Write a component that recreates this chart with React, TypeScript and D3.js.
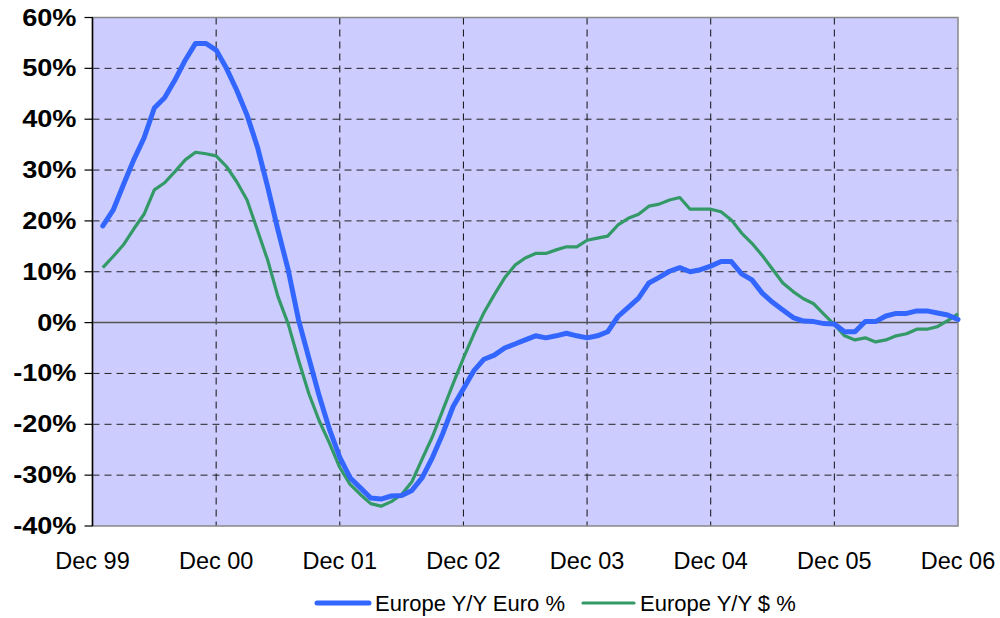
import React from "react";
import * as d3 from "d3";

const tickLabels = ["Dec 99", "Dec 00", "Dec 01", "Dec 02", "Dec 03", "Dec 04", "Dec 05", "Dec 06"];
const yTicks = [-40, -30, -20, -10, 0, 10, 20, 30, 40, 50, 60];

// Monthly values, Jan 00 .. Dec 06
const euroSeries = [
  19.0, 22.1, 27.1, 32.0, 36.3, 42.2, 44.2, 47.7, 51.6, 54.9, 54.9, 53.6,
  50.0, 45.7, 40.8, 34.6, 26.7, 18.2, 10.3, 0.5, -7.0, -14.4, -21.0, -26.5,
  -30.5, -32.5, -34.5, -34.7, -34.1, -34.0, -33.0, -30.5, -26.5, -21.8, -16.5, -13.0,
  -9.5, -7.2, -6.4, -5.0, -4.2, -3.4, -2.6, -3.0, -2.6, -2.1, -2.6, -3.0,
  -2.6, -1.8, 1.2, 3.0, 4.8, 7.8, 8.9, 10.1, 10.8, 10.0, 10.4, 11.1,
  12.0, 12.0, 9.6, 8.4, 5.8, 4.0, 2.5, 1.0, 0.3, 0.2, -0.2, -0.3,
  -1.8, -1.8, 0.2, 0.2, 1.3, 1.8, 1.8, 2.3, 2.3, 1.9, 1.5, 0.6,
];
const dollarSeries = [
  10.8, 13.0, 15.3, 18.4, 21.3, 26.1, 27.5, 29.7, 32.0, 33.5, 33.2, 32.8,
  30.7, 27.7, 24.1, 18.2, 12.3, 5.1, -0.3, -7.4, -14.0, -19.3, -23.7, -28.5,
  -31.8, -33.8, -35.6, -36.1, -35.2, -33.8, -31.3, -26.8, -22.4, -17.2, -12.0, -7.0,
  -2.3, 2.0, 5.5, 8.8, 11.3, 12.7, 13.6, 13.6, 14.3, 14.9, 14.9, 16.2,
  16.6, 17.0, 19.2, 20.5, 21.3, 22.9, 23.3, 24.1, 24.6, 22.3, 22.3, 22.3,
  21.8, 20.2, 17.6, 15.6, 13.2, 10.5, 7.8, 6.1, 4.7, 3.7, 1.6, -0.4,
  -2.6, -3.4, -3.0, -3.8, -3.4, -2.6, -2.2, -1.3, -1.3, -0.8, 0.4, 1.7,
];
const seriesNames = ["Europe Y/Y Euro %", "Europe Y/Y $ %"];

export default function App() {
  const W = 1000, H = 618;
  const L = 92.5, T = 17.5, R = 958, B = 526;
  const x = d3.scaleLinear().domain([0, 84]).range([L, R]);
  const y = d3.scaleLinear().domain([-40, 60]).range([B, T]);
  const line = d3.line<number>().x((_, i) => x(i + 1)).y((d) => y(d));
  const blue = "#3366FF";
  const green = "#339966";
  const font = "'Liberation Sans', Arial, sans-serif";

  return (
    <svg width={W} height={H} style={{ position: "absolute", left: 0, top: 0, background: "#fff" }}>
      <rect x={L} y={T} width={R - L} height={B - T} fill="#CCCCFF" />
      {yTicks.filter((t) => t !== 0 && t !== 60 && t !== -40).map((t) => (
        <line key={"h" + t} x1={L} x2={R} y1={y(t)} y2={y(t)} stroke="#222" strokeWidth={1} strokeDasharray="7,5" />
      ))}
      {tickLabels.map((_, i) => (i > 0 && i < 7 ? (
        <line key={"v" + i} x1={x(i * 12)} x2={x(i * 12)} y1={T} y2={B} stroke="#111" strokeWidth={1} strokeDasharray="7,5" />
      ) : null))}
      <line x1={L} x2={R} y1={y(0)} y2={y(0)} stroke="#555" strokeWidth={1.5} />
      <rect x={L} y={T} width={R - L} height={B - T} fill="none" stroke="#888" strokeWidth={1.5} />
      <line x1={L} x2={L} y1={T} y2={B} stroke="#000" strokeWidth={1.5} />
      {yTicks.map((t) => (
        <g key={"yt" + t}>
          <line x1={L - 8} x2={L} y1={y(t)} y2={y(t)} stroke="#000" strokeWidth={1.2} />
          <text
            x={0}
            y={0}
            transform={`translate(${L - 16},${y(t) + 8}) scale(1.18,1)`}
            textAnchor="end"
            fontFamily={font}
            fontWeight="bold"
            fontSize={23}
            fill="#000"
          >
            {t + "%"}
          </text>
        </g>
      ))}
      {tickLabels.map((lab, i) => (
        <text key={"xl" + i} x={x(i * 12)} y={569} textAnchor="middle" fontFamily={font} fontSize={23.5} fill="#000">
          {lab}
        </text>
      ))}
      <path d={line(dollarSeries) || ""} fill="none" stroke={green} strokeWidth={3.2} strokeLinejoin="round" />
      <path d={line(euroSeries) || ""} fill="none" stroke={blue} strokeWidth={5} strokeLinejoin="round" strokeLinecap="round" />
      <line x1={317} x2={369} y1={603} y2={603} stroke={blue} strokeWidth={5} strokeLinecap="round" />
      <text x={375} y={611} fontFamily={font} fontSize={22} fill="#000">{seriesNames[0]}</text>
      <line x1={583} x2={634} y1={603} y2={603} stroke={green} strokeWidth={3.2} strokeLinecap="round" />
      <text x={640} y={611} fontFamily={font} fontSize={22} fill="#000">{seriesNames[1]}</text>
    </svg>
  );
}
